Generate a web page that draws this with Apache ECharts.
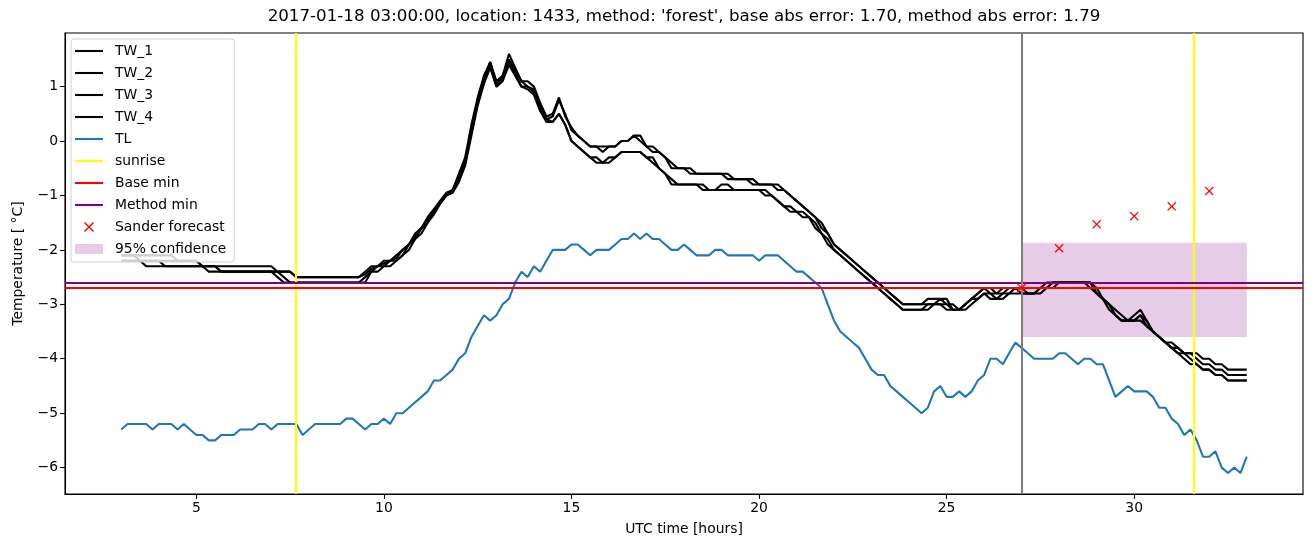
<!DOCTYPE html>
<html>
<head>
<meta charset="utf-8">
<script src="https://cdn.jsdelivr.net/npm/echarts@6/dist/echarts.min.js"></script>
<style>
  html, body { margin: 0; padding: 0; background: #fff; }
  #chart { width: 1313px; height: 547px; }
</style>
</head>
<body>
<div id="chart"></div>
<script>
// hourly samples every 10 minutes, 03:00 .. 33:00 UTC
var startHour = 3;
var stepHour = 1 / 6;

var tw1 = [
  -2.1, -2.1, -2.1, -2.1, -2.1, -2.1,
  -2.1, -2.1, -2.1, -2.2, -2.2, -2.2,
  -2.2, -2.3, -2.3, -2.3, -2.3, -2.3,
  -2.3, -2.3, -2.3, -2.3, -2.3, -2.3,
  -2.3, -2.4, -2.4, -2.4, -2.5, -2.5,
  -2.5, -2.5, -2.5, -2.5, -2.5, -2.5,
  -2.5, -2.5, -2.5, -2.4, -2.3, -2.3,
  -2.2, -2.2, -2.1, -2.0, -1.9, -1.7,
  -1.6, -1.4, -1.25, -1.1, -0.95, -0.9,
  -0.6, -0.3, 0.3, 0.8, 1.2, 1.45,
  1.1, 1.2, 1.6, 1.35, 1.1, 1.1,
  1.0, 0.7, 0.45, 0.5, 0.8, 0.45,
  0.25, 0.1, 0.0, -0.1, -0.1, -0.2,
  -0.1, -0.1, 0.0, 0.0, 0.1, 0.0,
  -0.1, -0.2, -0.2, -0.3, -0.5, -0.5,
  -0.5, -0.5, -0.6, -0.6, -0.6, -0.6,
  -0.6, -0.6, -0.7, -0.7, -0.7, -0.7,
  -0.8, -0.8, -0.8, -0.8, -0.9, -1.0,
  -1.1, -1.2, -1.3, -1.4, -1.5, -1.7,
  -1.9, -2.0, -2.1, -2.2, -2.3, -2.4,
  -2.5, -2.6, -2.7, -2.8, -2.9, -3.0,
  -3.0, -3.0, -3.0, -2.9, -2.9, -2.9,
  -2.9, -3.1, -3.1, -3.0, -2.9, -2.8,
  -2.7, -2.7, -2.8, -2.8, -2.7, -2.7,
  -2.7, -2.7, -2.7, -2.7, -2.7, -2.6,
  -2.6, -2.6, -2.6, -2.6, -2.6, -2.6,
  -2.8, -2.9, -3.0, -3.2, -3.3, -3.3,
  -3.2, -3.1, -3.3, -3.5, -3.6, -3.7,
  -3.7, -3.8, -3.9, -3.9, -3.9, -4.0,
  -4.0, -4.1, -4.1, -4.2, -4.2, -4.2,
  -4.2
];
var tw2 = [
  -2.1, -2.1, -2.1, -2.2, -2.2, -2.2,
  -2.2, -2.2, -2.2, -2.2, -2.2, -2.2,
  -2.2, -2.3, -2.3, -2.3, -2.4, -2.4,
  -2.4, -2.4, -2.4, -2.4, -2.4, -2.4,
  -2.4, -2.4, -2.4, -2.4, -2.5, -2.5,
  -2.5, -2.5, -2.5, -2.5, -2.5, -2.5,
  -2.5, -2.5, -2.5, -2.45, -2.35, -2.3,
  -2.25, -2.2, -2.15, -2.0, -1.9, -1.75,
  -1.6, -1.45, -1.3, -1.1, -1.0, -0.9,
  -0.65, -0.35, 0.2, 0.75, 1.15, 1.45,
  1.05, 1.2, 1.5, 1.3, 1.1, 1.0,
  0.95, 0.65, 0.4, 0.45, 0.75, 0.5,
  0.2, 0.1, 0.0, -0.1, -0.1, -0.1,
  -0.1, -0.1, 0.0, 0.0, 0.1, 0.1,
  -0.1, -0.1, -0.2, -0.3, -0.4, -0.5,
  -0.5, -0.6, -0.6, -0.6, -0.6, -0.6,
  -0.6, -0.7, -0.7, -0.7, -0.7, -0.8,
  -0.8, -0.8, -0.8, -0.9, -0.9, -1.0,
  -1.1, -1.2, -1.3, -1.4, -1.6, -1.7,
  -1.9, -2.0, -2.1, -2.2, -2.3, -2.4,
  -2.5, -2.6, -2.7, -2.8, -2.9, -3.0,
  -3.0, -3.0, -3.0, -3.0, -3.0, -2.9,
  -3.0, -3.0, -3.1, -3.0, -2.9, -2.8,
  -2.7, -2.8, -2.8, -2.7, -2.7, -2.7,
  -2.7, -2.8, -2.8, -2.7, -2.6, -2.6,
  -2.6, -2.6, -2.6, -2.6, -2.6, -2.6,
  -2.8, -2.9, -3.0, -3.2, -3.3, -3.3,
  -3.3, -3.2, -3.3, -3.5, -3.6, -3.7,
  -3.8, -3.8, -3.9, -3.9, -4.0, -4.1,
  -4.1, -4.2, -4.2, -4.3, -4.3, -4.3,
  -4.3
];
var tw3 = [
  -2.2, -2.2, -2.2, -2.2, -2.3, -2.3,
  -2.3, -2.3, -2.3, -2.3, -2.3, -2.3,
  -2.3, -2.3, -2.4, -2.4, -2.4, -2.4,
  -2.4, -2.4, -2.4, -2.4, -2.4, -2.4,
  -2.4, -2.5, -2.6, -2.6, -2.6, -2.6,
  -2.6, -2.6, -2.6, -2.6, -2.6, -2.6,
  -2.6, -2.6, -2.6, -2.5, -2.4, -2.3,
  -2.3, -2.2, -2.2, -2.1, -1.9, -1.8,
  -1.6, -1.5, -1.3, -1.15, -1.0, -0.9,
  -0.7, -0.4, 0.15, 0.7, 1.1, 1.4,
  1.0, 1.15, 1.45, 1.25, 1.0, 1.0,
  0.9, 0.6, 0.4, 0.35, 0.5, 0.3,
  0.0, -0.1, -0.2, -0.3, -0.4, -0.4,
  -0.3, -0.3, -0.2, -0.2, -0.2, -0.2,
  -0.3, -0.4, -0.5, -0.6, -0.8, -0.8,
  -0.8, -0.8, -0.8, -0.8, -0.9, -0.9,
  -0.8, -0.8, -0.9, -0.9, -0.9, -0.9,
  -0.9, -0.9, -1.0, -1.1, -1.2, -1.2,
  -1.3, -1.3, -1.4, -1.5, -1.7, -1.8,
  -2.0, -2.1, -2.2, -2.3, -2.4, -2.5,
  -2.6, -2.7, -2.8, -2.9, -3.0, -3.1,
  -3.1, -3.1, -3.1, -3.0, -3.0, -3.0,
  -3.1, -3.1, -3.1, -3.0, -2.9, -2.9,
  -2.8, -2.9, -2.9, -2.8, -2.8, -2.7,
  -2.8, -2.8, -2.8, -2.7, -2.7, -2.6,
  -2.6, -2.6, -2.6, -2.6, -2.6, -2.7,
  -2.8, -2.9, -3.1, -3.2, -3.3, -3.3,
  -3.3, -3.2, -3.4, -3.5, -3.6, -3.7,
  -3.8, -3.9, -3.9, -4.0, -4.1, -4.2,
  -4.2, -4.3, -4.3, -4.4, -4.4, -4.4,
  -4.4
];
var tw4 = [
  -2.2, -2.2, -2.2, -2.2, -2.2, -2.2,
  -2.2, -2.3, -2.3, -2.3, -2.3, -2.3,
  -2.3, -2.3, -2.3, -2.3, -2.4, -2.4,
  -2.4, -2.4, -2.4, -2.4, -2.4, -2.4,
  -2.4, -2.4, -2.5, -2.6, -2.6, -2.6,
  -2.6, -2.6, -2.6, -2.6, -2.6, -2.6,
  -2.6, -2.6, -2.6, -2.6, -2.4, -2.4,
  -2.3, -2.3, -2.2, -2.1, -2.0, -1.8,
  -1.7, -1.5, -1.35, -1.15, -1.0, -0.95,
  -0.75, -0.45, 0.1, 0.65, 1.05, 1.35,
  1.0, 1.1, 1.4, 1.2, 1.0, 0.95,
  0.85, 0.55, 0.35, 0.35, 0.5, 0.3,
  0.0, -0.1, -0.2, -0.3, -0.3, -0.4,
  -0.4, -0.3, -0.2, -0.2, -0.2, -0.2,
  -0.3, -0.3, -0.5, -0.6, -0.7, -0.8,
  -0.8, -0.8, -0.8, -0.9, -0.9, -0.9,
  -0.9, -0.9, -0.9, -0.9, -0.9, -0.9,
  -0.9, -1.0, -1.0, -1.1, -1.2, -1.3,
  -1.3, -1.4, -1.4, -1.6, -1.7, -1.9,
  -2.0, -2.1, -2.2, -2.3, -2.4, -2.5,
  -2.6, -2.7, -2.8, -2.9, -3.0, -3.1,
  -3.1, -3.1, -3.1, -3.1, -3.0, -3.0,
  -3.0, -3.1, -3.1, -3.1, -3.0, -2.9,
  -2.8, -2.8, -2.9, -2.9, -2.8, -2.8,
  -2.8, -2.8, -2.8, -2.8, -2.7, -2.7,
  -2.6, -2.6, -2.6, -2.6, -2.6, -2.6,
  -2.7, -2.9, -3.0, -3.1, -3.2, -3.3,
  -3.3, -3.3, -3.4, -3.5, -3.6, -3.7,
  -3.8, -3.9, -4.0, -4.1, -4.1, -4.2,
  -4.2, -4.3, -4.3, -4.4, -4.4, -4.4,
  -4.4
];
var tl = [
  -5.3, -5.2, -5.2, -5.2, -5.2, -5.3,
  -5.2, -5.2, -5.2, -5.3, -5.2, -5.3,
  -5.4, -5.4, -5.5, -5.5, -5.4, -5.4,
  -5.4, -5.3, -5.3, -5.3, -5.2, -5.2,
  -5.3, -5.2, -5.2, -5.2, -5.2, -5.4,
  -5.3, -5.2, -5.2, -5.2, -5.2, -5.2,
  -5.1, -5.1, -5.2, -5.3, -5.2, -5.2,
  -5.1, -5.2, -5.0, -5.0, -4.9, -4.8,
  -4.7, -4.6, -4.4, -4.4, -4.3, -4.2,
  -4.0, -3.9, -3.6, -3.4, -3.2, -3.3,
  -3.2, -3.0, -2.9, -2.6, -2.4, -2.5,
  -2.3, -2.4, -2.2, -2.0, -2.0, -2.0,
  -1.9, -1.9, -2.0, -2.1, -2.0, -2.0,
  -2.0, -1.9, -1.8, -1.8, -1.7, -1.8,
  -1.7, -1.8, -1.8, -1.9, -2.0, -2.0,
  -1.9, -2.0, -2.1, -2.1, -2.1, -2.0,
  -2.0, -2.1, -2.1, -2.1, -2.1, -2.1,
  -2.2, -2.1, -2.1, -2.1, -2.2, -2.3,
  -2.4, -2.4, -2.5, -2.6, -2.7, -3.0,
  -3.3, -3.5, -3.6, -3.7, -3.8, -4.0,
  -4.2, -4.3, -4.3, -4.5, -4.6, -4.7,
  -4.8, -4.9, -5.0, -4.9, -4.6, -4.5,
  -4.7, -4.7, -4.6, -4.7, -4.6, -4.4,
  -4.3, -4.0, -4.0, -4.1, -3.9, -3.7,
  -3.8, -3.9, -4.0, -4.0, -4.0, -4.0,
  -3.9, -3.9, -4.0, -4.1, -4.0, -4.0,
  -4.1, -4.1, -4.4, -4.7, -4.6, -4.5,
  -4.6, -4.6, -4.6, -4.7, -4.9, -4.9,
  -5.1, -5.2, -5.4, -5.3, -5.5, -5.8,
  -5.8, -5.7, -6.0, -6.1, -6.0, -6.1,
  -5.8
];

var sunriseHours = [7.65, 31.6];
var forecastStartHour = 27;
var baseMin = -2.7;
var methodMin = -2.61;
var sanderHours = [27, 28, 29, 30, 31, 32];
var sanderValues = [-2.7, -1.97, -1.53, -1.38, -1.2, -0.92];
var confHours = [27, 33];
var confLow = -3.6;
var confHigh = -1.87;

var xTicks = [5, 10, 15, 20, 25, 30];
var yTicks = [-6, -5, -4, -3, -2, -1, 0, 1];

function pairs(values) {
  var out = [];
  for (var i = 0; i < values.length; i++) {
    out.push([startHour + i * stepHour, values[i]]);
  }
  return out;
}

var font = "DejaVu Sans";
var lw = 2.08; // 1.5pt at 100 dpi
var lineIcon = "path://M0,0 H28 V2.08 H0 Z";
var xShape = "path://M0,1 L1,0 L5,4 L9,0 L10,1 L6,5 L10,9 L9,10 L5,6 L1,10 L0,9 L4,5 Z";
var xIcon = "path://M-2,-1.5 L-1.99,-1.5 L-2,-1.49 Z M0,1 L1,0 L5,4 L9,0 L10,1 L6,5 L10,9 L9,10 L5,6 L1,10 L0,9 L4,5 Z M12,11.5 L11.99,11.5 L12,11.49 Z";
var rectIcon = "path://M0,0 H28 V10 H0 Z";

function twSeries(name, values) {
  return {
    name: name, type: "line", data: pairs(values), showSymbol: false,
    color: "#000", lineStyle: { color: "#000", width: lw }, z: 3,
    silent: true
  };
}

function markOnly(name, color, mark) {
  return {
    name: name, type: "line", data: [], color: color,
    lineStyle: { color: color, width: lw }, z: 4,
    markLine: {
      silent: true, symbol: "none", animation: false,
      label: { show: false },
      lineStyle: { color: color, width: lw, type: "solid", opacity: 1 },
      data: mark
    }
  };
}

var chart = echarts.init(document.getElementById("chart"));
chart.setOption({
  animation: false,
  graphic: [{
    type: "text", x: 684, y: 17,
    style: {
      text: "2017-01-18 03:00:00, location: 1433, method: 'forest', base abs error: 1.70, method abs error: 1.79",
      fontFamily: font, fontSize: 16.7, fill: "#000",
      textAlign: "center", textVerticalAlign: "middle"
    }
  }],
  grid: {
    left: 65, right: 10, top: 33, bottom: 53,
    show: true, borderColor: "#000", borderWidth: 1.1, backgroundColor: "transparent"
  },
  legend: {
    orient: "vertical", left: 71, top: 39,
    padding: [5, 8, 6, 4],
    itemWidth: 28, itemHeight: 13, itemGap: 8,
    backgroundColor: "rgba(255,255,255,0.8)",
    borderColor: "#d0d0d0", borderWidth: 1, borderRadius: 3,
    selectedMode: false,
    textStyle: { fontFamily: font, fontSize: 13.9, color: "#000", padding: [0, 0, 0, 7] },
    data: [
      { name: "TW_1", icon: lineIcon },
      { name: "TW_2", icon: lineIcon },
      { name: "TW_3", icon: lineIcon },
      { name: "TW_4", icon: lineIcon },
      { name: "TL", icon: lineIcon },
      { name: "sunrise", icon: lineIcon },
      { name: "Base min", icon: lineIcon },
      { name: "Method min", icon: lineIcon },
      { name: "Sander forecast", icon: xIcon, itemStyle: { opacity: 1 } },
      { name: "95% confidence", icon: rectIcon }
    ]
  },
  xAxis: {
    type: "value", min: 1.5, max: 34.5,
    name: "UTC time [hours]", nameLocation: "middle", nameGap: 28,
    nameTextStyle: { fontFamily: font, fontSize: 13.9, color: "#000" },
    axisLine: { show: true, onZero: false, lineStyle: { color: "#000", width: 1.1 } },
    axisTick: { show: true, length: 4.9, customValues: xTicks, lineStyle: { color: "#000", width: 1.1 } },
    axisLabel: { customValues: xTicks, margin: 7, fontFamily: font, fontSize: 13.9, color: "#000" },
    splitLine: { show: false }
  },
  yAxis: {
    type: "value", min: -6.485, max: 1.985,
    name: "Temperature [ °C]", nameLocation: "middle", nameGap: 40, nameRotate: 90,
    nameTextStyle: { fontFamily: font, fontSize: 13.9, color: "#000" },
    axisLine: { show: true, onZero: false, lineStyle: { color: "#000", width: 1.1 } },
    axisTick: { show: true, length: 4.9, customValues: yTicks, lineStyle: { color: "#000", width: 1.1 } },
    axisLabel: {
      customValues: yTicks, margin: 7, fontFamily: font, fontSize: 13.9, color: "#000",
      formatter: function (v) { return String(v).replace("-", "\u2212"); }
    },
    splitLine: { show: false }
  },
  series: [
    {
      name: "95% confidence", type: "line", data: [], z: 1,
      color: "rgba(128,0,128,0.2)",
      markArea: {
        silent: true,
        itemStyle: { color: "rgba(128,0,128,0.2)", opacity: 1 },
        data: [[{ coord: [confHours[0], confHigh] }, { coord: [confHours[1], confLow] }]]
      }
    },
    twSeries("TW_1", tw1),
    twSeries("TW_2", tw2),
    twSeries("TW_3", tw3),
    twSeries("TW_4", tw4),
    {
      name: "TL", type: "line", data: pairs(tl), showSymbol: false,
      color: "#1f77b4", lineStyle: { color: "#1f77b4", width: lw }, z: 3, silent: true
    },
    markOnly("sunrise", "#ffff00", sunriseHours.map(function (h) { return { xAxis: h }; })),
    markOnly("Base min", "#ff0000", [{ yAxis: baseMin }]),
    markOnly("Method min", "#800080", [{ yAxis: methodMin }]),
    markOnly("forecast start", "#808080", [{ xAxis: forecastStartHour }]),
    {
      name: "Sander forecast", type: "scatter", z: 6,
      data: sanderHours.map(function (h, i) { return [h, sanderValues[i]]; }),
      symbol: xShape, symbolSize: 9, color: "#ff0000",
      itemStyle: { color: "#ff0000", opacity: 1 }, silent: true
    }
  ]
});
</script>
</body>
</html>
